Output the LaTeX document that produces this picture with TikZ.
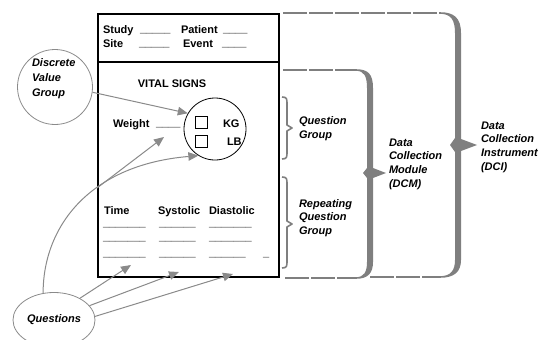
\documentclass[tikz,border=0pt]{standalone}
\usepackage{fontspec}
\setmainfont{Liberation Sans}
\usetikzlibrary{positioning}
\usetikzlibrary{shapes.geometric}
\usetikzlibrary{arrows.meta}
\definecolor{bracegray}{HTML}{7F7F7F}
\definecolor{arrowgray}{HTML}{8A8A8A}

\begin{document}
\begin{tikzpicture}[
                x=1pt, y=-1pt,
                txt/.style = {
                    font=\bfseries\fontsize{11}{13.7}\selectfont,
                    inner sep = 0pt,
                    outer sep = 0pt,
                    align = left
                },
                lbl/.style = {
                    txt,
                    font=\bfseries\itshape\fontsize{11}{13.7}\selectfont,
                    anchor = west
                },
                blank/.style = {
                    txt,
                    anchor = base west
                },
                qarrow/.style = {
                    draw = arrowgray,
                    line width = 1pt,
                    -{Triangle[length=10pt, width=8.5pt]}
                },
                gline/.style = {
                    draw = bracegray,
                    line width = 1.1pt,
                    dash pattern = on 24pt off 2pt
                },
                smallbrace/.style = {
                    draw = bracegray,
                    line width = 1.6pt,
                    line join = round
                }
            ]
            \useasboundingbox (0,0) rectangle (541,340);
            \clip (0,0) rectangle (541,340);
            %
            % the form
            \node[draw, line width = 2.4pt, minimum width = 181pt, minimum height = 263pt,
                  anchor = north west, inner sep = 0pt] (form) at (97,13) {};
            \draw[line width = 2.4pt] (form.west |- 0,62) -- (form.east |- 0,62);
            %
            \node[blank] (study) at (103,33) {Study};
            \node[blank] (studyb) at (140,32.5) {\_\_\_\_\_};
            \node[blank] (patient) at (181,33) {Patient};
            \node[blank] (patientb) at (223,32.5) {\_\_\_\_};
            \node[blank] (site) at (103,47) {Site};
            \node[blank] (siteb) at (139,46.5) {\_\_\_\_\_};
            \node[blank] (event) at (183,47) {Event};
            \node[blank] (eventb) at (222,46.5) {\_\_\_\_};
            %
            \node[txt] (vital) at (172,84) {VITAL SIGNS};
            \node[blank] (weight) at (113,127) {Weight};
            \node[blank] (weightb) at (156,126.5) {\_\_\_\_};
            %
            \node[draw, circle, line width = 0.8pt, minimum size = 62pt] (unit) at (215,129) {};
            \node[draw, line width = 0.8pt, minimum size = 12pt, inner sep = 0pt] (kgbox) at (201,122) {};
            \node[draw, line width = 0.8pt, minimum size = 12pt, inner sep = 0pt] (lbbox) at (201,141) {};
            \node[blank] (kg) at (223,127) {KG};
            \node[blank] (lb) at (227,145) {LB};
            %
            \node[blank] (time) at (104,214) {Time};
            \node[blank] (systolic) at (158,214) {Systolic};
            \node[blank] (diastolic) at (209,214) {Diastolic};
            \foreach \y/\n in {226.5/1, 240.5/2, 256.5/3} {
                \node[blank] (timeb\n) at (103,\y) {\_\_\_\_\_\_\_};
                \node[blank] (sysb\n) at (159,\y) {\_\_\_\_\_\_};
            }
            \node[blank] (diab1) at (209,226.5) {\_\_\_\_\_\_\_};
            \node[blank] (diab2) at (209,240.5) {\_\_\_\_\_\_\_};
            \node[blank] (diab3) at (209,256.5) {\_\_\_\_\_\_};
            \node[blank] (extrab) at (263,256.5) {\_};
            %
            % the two groups on the left
            \node[draw=arrowgray, circle, line width = 0.8pt, minimum size = 75pt] (dvg) at (55,87) {};
            \node[lbl] (dvgtext) at (32,79) {Discrete\\[1.3pt]Value\\[1.3pt]Group};
            \node[draw=arrowgray, ellipse, line width = 0.8pt, minimum width = 82pt,
                  minimum height = 55pt, inner sep = 0pt] (questions) at (54,320) {};
            \node[lbl, anchor = center] (qtext) at (54,320) {Questions};
            %
            \coordinate (fork) at (97,188);
            \coordinate (wtip) at (164,137);
            \coordinate (t1) at (131,265);
            \coordinate (t2) at (179,272);
            \coordinate (t3) at (233,274);
            %
            \draw[qarrow] (dvg.-8) -- (unit.150);
            \draw[qarrow] (questions.112) .. controls (43,228) and (88,165) .. (unit.238);
            \draw[qarrow] (fork) -- (wtip);
            \draw[qarrow] (questions.40) -- (t1);
            \draw[qarrow] (questions.22) -- (t2);
            \draw[qarrow] (questions.5) -- (t3);
            %
            % braces on the right
            \draw[smallbrace] (282,97) .. controls (287,97) and (287,99) .. (287,104)
                -- (287,125) -- (292,128) -- (287,131) -- (287,152)
                .. controls (287,157) and (287,159) .. (282,159);
            \draw[smallbrace] (282,177) .. controls (287,177) and (287,179) .. (287,184)
                -- (287,221) -- (292,224) -- (287,227) -- (287,261)
                .. controls (287,266) and (287,268) .. (282,268);
            \node[lbl] (qg) at (299,128.5) {Question\\Group};
            \node[lbl] (rqg) at (299,218) {Repeating\\Question\\Group};
            %
            \draw[gline] (283,70) -- (356,70);
            \draw[gline] (285,278) -- (356,278);
            \fill[bracegray] (356,69.2) .. controls (368,69.2) and (373,74) .. (373,88)
                -- (373,168) -- (386,173) -- (373,178) -- (373,262)
                .. controls (373,273) and (368,278.8) .. (356,278.8)
                -- (356,277.2) .. controls (364,277.2) and (367,272) .. (367,262)
                -- (367,178) -- (363,173) -- (367,168) -- (367,88)
                .. controls (367,76) and (364,70.8) .. (356,70.8) -- cycle;
            \node[lbl] (dcm) at (389,164) {Data\\Collection\\Module\\(DCM)};
            %
            \draw[gline] (283,13) -- (440,13);
            \draw[gline] (370,277) -- (440,277);
            \fill[bracegray] (440,12.2) .. controls (454,12.2) and (461,18) .. (461,33)
                -- (461,139) -- (477,145) -- (461,151) -- (461,260)
                .. controls (461,272) and (454,277.8) .. (440,277.8)
                -- (440,276.2) .. controls (451,276.2) and (455,270) .. (455,260)
                -- (455,152) -- (450,145) -- (455,138) -- (455,33)
                .. controls (455,20) and (451,13.8) .. (440,13.8) -- cycle;
            \node[lbl] (dci) at (481,147) {Data\\Collection\\Instrument\\(DCI)};
            %
\end{tikzpicture}
\end{document}
